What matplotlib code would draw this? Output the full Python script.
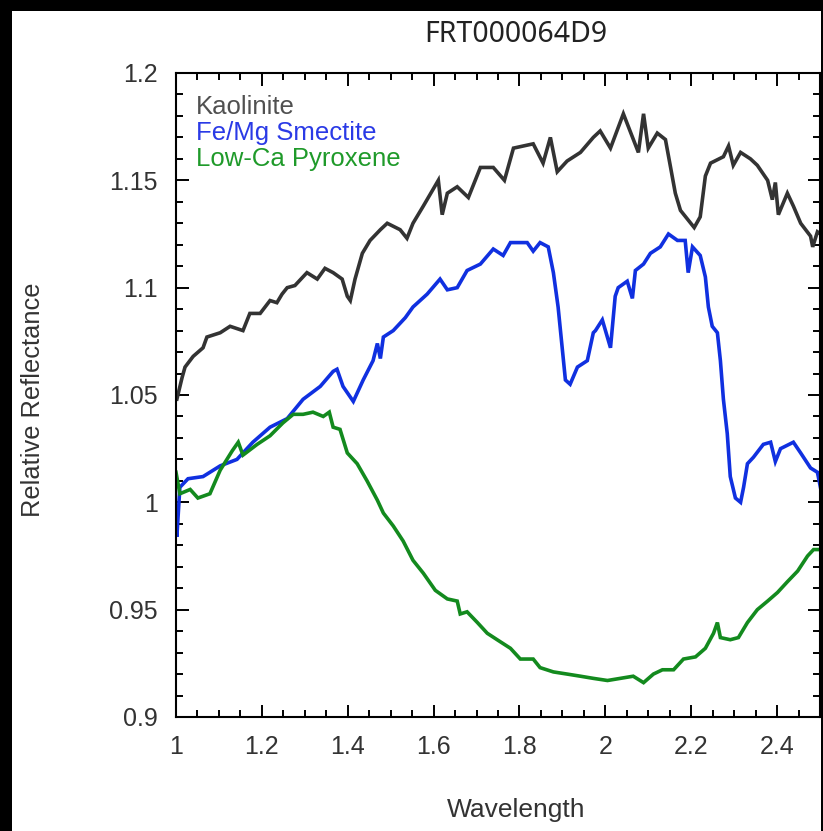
import matplotlib
matplotlib.use("Agg")
import matplotlib.pyplot as plt
from matplotlib.ticker import FixedLocator, MultipleLocator, FixedFormatter
from matplotlib.patches import Rectangle

plt.rcParams['font.family'] = ['Liberation Sans', 'DejaVu Sans']

title = "FRT000064D9"
series_names = ["Kaolinite", "Fe/Mg Smectite", "Low-Ca Pyroxene"]

kaol_x = [1.000, 1.002, 1.014, 1.021, 1.040, 1.063, 1.072, 1.103, 1.126, 1.156, 1.172, 1.196,
          1.219, 1.235, 1.247, 1.259, 1.277, 1.305, 1.329, 1.347, 1.366, 1.387, 1.399, 1.406,
          1.417, 1.434, 1.452, 1.476, 1.492, 1.522, 1.538, 1.552, 1.576, 1.611, 1.620, 1.632,
          1.655, 1.681, 1.709, 1.739, 1.765, 1.786, 1.832, 1.855, 1.872, 1.888, 1.911, 1.942,
          1.972, 1.988, 2.012, 2.042, 2.077, 2.089, 2.100, 2.121, 2.140, 2.152, 2.163, 2.175,
          2.191, 2.207, 2.221, 2.233, 2.245, 2.275, 2.287, 2.298, 2.315, 2.338, 2.354, 2.378,
          2.389, 2.396, 2.403, 2.424, 2.438, 2.455, 2.478, 2.483, 2.494, 2.501]
kaol_y = [1.048, 1.048, 1.058, 1.063, 1.068, 1.072, 1.077, 1.079, 1.082, 1.080, 1.088, 1.088,
          1.094, 1.093, 1.097, 1.100, 1.101, 1.107, 1.104, 1.109, 1.107, 1.104, 1.096, 1.094,
          1.104, 1.116, 1.122, 1.127, 1.130, 1.127, 1.123, 1.130, 1.138, 1.150, 1.134, 1.144,
          1.147, 1.142, 1.156, 1.156, 1.150, 1.165, 1.167, 1.158, 1.170, 1.154, 1.159, 1.163,
          1.170, 1.173, 1.165, 1.181, 1.163, 1.181, 1.165, 1.172, 1.169, 1.156, 1.144, 1.136,
          1.132, 1.128, 1.133, 1.152, 1.158, 1.161, 1.166, 1.157, 1.163, 1.160, 1.157, 1.150,
          1.141, 1.149, 1.134, 1.144, 1.138, 1.130, 1.124, 1.119, 1.126, 1.125]

smec_x = [1.000, 1.002, 1.009, 1.028, 1.063, 1.103, 1.142, 1.179, 1.219, 1.259, 1.296, 1.336,
          1.366, 1.375, 1.389, 1.413, 1.436, 1.459, 1.469, 1.476, 1.483, 1.506, 1.534, 1.552,
          1.585, 1.615, 1.632, 1.655, 1.678, 1.709, 1.739, 1.762, 1.779, 1.818, 1.832, 1.848,
          1.867, 1.879, 1.890, 1.900, 1.907, 1.918, 1.935, 1.958, 1.972, 1.977, 1.993, 2.012,
          2.023, 2.030, 2.051, 2.063, 2.070, 2.089, 2.105, 2.128, 2.147, 2.168, 2.186, 2.193,
          2.203, 2.221, 2.233, 2.240, 2.249, 2.261, 2.268, 2.275, 2.284, 2.291, 2.303, 2.315,
          2.322, 2.331, 2.345, 2.368, 2.385, 2.396, 2.408, 2.438, 2.455, 2.478, 2.494, 2.501]
smec_y = [0.995, 0.984, 1.007, 1.011, 1.012, 1.017, 1.020, 1.028, 1.035, 1.039, 1.048, 1.054,
          1.061, 1.062, 1.054, 1.047, 1.057, 1.066, 1.074, 1.067, 1.077, 1.080, 1.086, 1.091,
          1.097, 1.104, 1.099, 1.100, 1.108, 1.111, 1.118, 1.115, 1.121, 1.121, 1.117, 1.121,
          1.119, 1.107, 1.091, 1.071, 1.057, 1.055, 1.063, 1.066, 1.079, 1.080, 1.085, 1.072,
          1.096, 1.100, 1.103, 1.095, 1.108, 1.111, 1.116, 1.119, 1.125, 1.122, 1.122, 1.107,
          1.119, 1.115, 1.105, 1.091, 1.082, 1.079, 1.066, 1.048, 1.032, 1.012, 1.002, 1.000,
          1.007, 1.018, 1.021, 1.027, 1.028, 1.019, 1.025, 1.028, 1.023, 1.016, 1.014, 1.007]

pyro_x = [1.000, 1.009, 1.033, 1.051, 1.079, 1.103, 1.131, 1.145, 1.156, 1.189, 1.219, 1.249,
          1.273, 1.296, 1.319, 1.343, 1.357, 1.366, 1.382, 1.399, 1.422, 1.445, 1.469, 1.483,
          1.506, 1.529, 1.552, 1.576, 1.604, 1.632, 1.655, 1.662, 1.678, 1.702, 1.725, 1.748,
          1.779, 1.802, 1.832, 1.848, 1.879, 1.911, 1.942, 1.972, 2.005, 2.035, 2.065, 2.089,
          2.112, 2.133, 2.159, 2.182, 2.210, 2.233, 2.252, 2.261, 2.268, 2.291, 2.310, 2.331,
          2.354, 2.378, 2.401, 2.424, 2.448, 2.471, 2.485, 2.501]
pyro_y = [1.014, 1.004, 1.006, 1.002, 1.004, 1.015, 1.024, 1.028, 1.022, 1.027, 1.031, 1.037,
          1.041, 1.041, 1.042, 1.040, 1.042, 1.035, 1.034, 1.023, 1.018, 1.010, 1.001, 0.995,
          0.989, 0.982, 0.973, 0.967, 0.959, 0.955, 0.954, 0.948, 0.949, 0.944, 0.939, 0.936,
          0.932, 0.927, 0.927, 0.923, 0.921, 0.920, 0.919, 0.918, 0.917, 0.918, 0.919, 0.916,
          0.920, 0.922, 0.922, 0.927, 0.928, 0.932, 0.939, 0.944, 0.937, 0.936, 0.937, 0.944,
          0.950, 0.954, 0.958, 0.963, 0.968, 0.975, 0.978, 0.978]

x_ticks = [1.0, 1.2, 1.4, 1.6, 1.8, 2.0, 2.2, 2.4]
x_labels = ["1", "1.2", "1.4", "1.6", "1.8", "2", "2.2", "2.4"]
y_ticks = [0.9, 0.95, 1.0, 1.05, 1.1, 1.15, 1.2]
y_labels = ["0.9", "0.95", "1", "1.05", "1.1", "1.15", "1.2"]

line_colors = ["#333333", "#1030e0", "#138a1e"]
text_colors = ["#505050", "#2a3ae6", "#1f9a2a"]

W, H = 823, 831
fig = plt.figure(figsize=(W / 100, H / 100), dpi=100, facecolor="black")
bg = Rectangle((12 / W, 0), (821 - 12) / W, (H - 11) / H,
               transform=fig.transFigure, facecolor="white",
               edgecolor="none", zorder=-10)
fig.patches.append(bg)

ax = fig.add_axes([176 / W, (H - 717) / H, (820 - 176) / W, (717 - 73) / H])
ax.set_zorder(5)
ax.set_facecolor("white")

for (xs, ys), c in zip([(kaol_x, kaol_y), (smec_x, smec_y), (pyro_x, pyro_y)], line_colors):
    ax.plot(xs, ys, color=c, lw=2.6, solid_joinstyle="miter")

ax.set_xlim(1.0, 2.5)
ax.set_ylim(0.9, 1.2)
ax.xaxis.set_major_locator(FixedLocator(x_ticks))
ax.xaxis.set_major_formatter(FixedFormatter(x_labels))
ax.xaxis.set_minor_locator(MultipleLocator(0.05))
ax.yaxis.set_major_locator(FixedLocator(y_ticks))
ax.yaxis.set_major_formatter(FixedFormatter(y_labels))
ax.yaxis.set_minor_locator(MultipleLocator(0.01))

ax.tick_params(which="both", direction="in", top=True, right=True, color="black",
               labelsize=18, labelcolor="#333333", width=1.4)
ax.tick_params(which="major", length=9, pad=13)
ax.tick_params(which="minor", length=5)
for s in ax.spines.values():
    s.set_linewidth(1.5)

# series labels (coloured text list in upper-left)
baselines_px = [114, 140, 166]
for name, tc, b in zip(series_names, text_colors, baselines_px):
    fig.text(196 / W, 1 - b / H, name, color=tc, fontsize=18.5,
             va="baseline", ha="left", zorder=10)

fig.text(516 / W, 1 - 35 / H, title, fontsize=20.5, ha="center", va="center",
         color="#222222", family=["Noto Sans", "DejaVu Sans"])
fig.text(516 / W, 1 - 810 / H, "Wavelength", fontsize=19, ha="center", va="center",
         color="#333333")
fig.text(33 / W, 1 - 400 / H, "Relative Reflectance", fontsize=18.3, ha="center",
         va="center", rotation=90, color="#333333")

fig.savefig("out.png", dpi=100, facecolor=fig.get_facecolor())
